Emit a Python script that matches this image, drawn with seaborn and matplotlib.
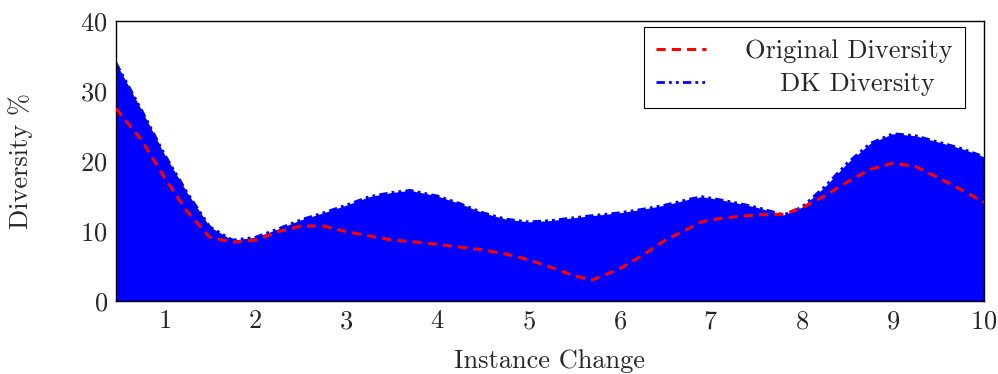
import numpy as np
import pandas as pd
import matplotlib
matplotlib.use("Agg")
import matplotlib.pyplot as plt
import seaborn as sns

# values
instance = [0.47, 0.75, 1.0, 1.25, 1.5, 1.75, 2.0, 2.25, 2.5, 2.75, 3.0, 3.25, 3.5, 3.7,
            4.0, 4.25, 4.5, 4.75, 5.0, 5.25, 5.5, 5.7, 6.0, 6.25, 6.5, 6.75, 6.9, 7.0,
            7.25, 7.5, 7.8, 8.0, 8.25, 8.5, 8.75, 9.0, 9.25, 9.5, 9.75, 10.0]
dk_diversity = [34.0, 27.3, 21.0, 15.5, 10.6, 8.7, 9.1, 10.3, 11.6, 12.6, 13.7, 14.9, 15.5, 15.8,
                15.0, 13.9, 12.6, 11.7, 11.3, 11.5, 11.9, 12.2, 12.6, 13.1, 13.7, 14.5, 14.9, 14.7,
                14.1, 13.4, 12.3, 13.4, 16.3, 19.7, 22.5, 23.9, 23.6, 22.7, 21.8, 20.6]
orig_diversity = [27.5, 23.0, 17.7, 12.8, 9.1, 8.4, 8.7, 9.9, 10.7, 10.7, 9.9, 9.3, 8.7, 8.5,
                  8.1, 7.7, 7.3, 6.7, 5.9, 4.8, 3.6, 3.0, 4.6, 6.5, 8.7, 10.3, 11.3, 11.6,
                  12.0, 12.3, 12.4, 13.3, 15.0, 17.0, 18.8, 19.7, 19.2, 17.6, 15.9, 14.1]

df = pd.DataFrame({"Instance": instance, "DK": dk_diversity, "Original": orig_diversity})

sns.set_style("white")
plt.rcParams["font.family"] = ["cmr10", "DejaVu Serif"]
plt.rcParams["mathtext.fontset"] = "cm"
plt.rcParams["axes.formatter.use_mathtext"] = True

fig = plt.figure(figsize=(9.98, 3.74), dpi=100)
ax = fig.add_axes([0.1162, 0.1952, 0.8697, 0.7487])

ax.fill_between(df["Instance"], 0, df["DK"], color="blue", linewidth=0, zorder=1)
sns.lineplot(data=df, x="Instance", y="DK", ax=ax, color="blue", linewidth=2,
             linestyle=(0, (3, 1.5, 1, 1.5, 1, 1.5)), label="DK Diversity", zorder=2)
sns.lineplot(data=df, x="Instance", y="Original", ax=ax, color="red", linewidth=2.2,
             linestyle=(0, (3, 2)), label="Original Diversity", zorder=3)

ax.set_xlim(0.47, 10)
ax.set_ylim(0, 40)
ax.set_xticks(range(1, 11))
ax.set_yticks([0, 10, 20, 30, 40])
ax.tick_params(axis="both", length=0, labelsize=19, pad=6)
ax.set_xlabel("Instance Change", fontsize=19, labelpad=12)
ax.set_ylabel("Diversity %", fontsize=19, labelpad=34)
for s in ax.spines.values():
    s.set_color("black")
    s.set_linewidth(1)

handles, labels = ax.get_legend_handles_labels()
leg = ax.legend(handles[::-1], ["Original Diversity", "    DK Diversity"], loc="upper right",
                bbox_to_anchor=(0.978, 0.9775), borderaxespad=0,
                fontsize=19, frameon=True, fancybox=False, edgecolor="black",
                framealpha=1, handlelength=1.9, handletextpad=1.5,
                labelspacing=0.35, borderpad=0.45)
leg.get_frame().set_linewidth(0.8)

fig.savefig("out.png", dpi=100)
